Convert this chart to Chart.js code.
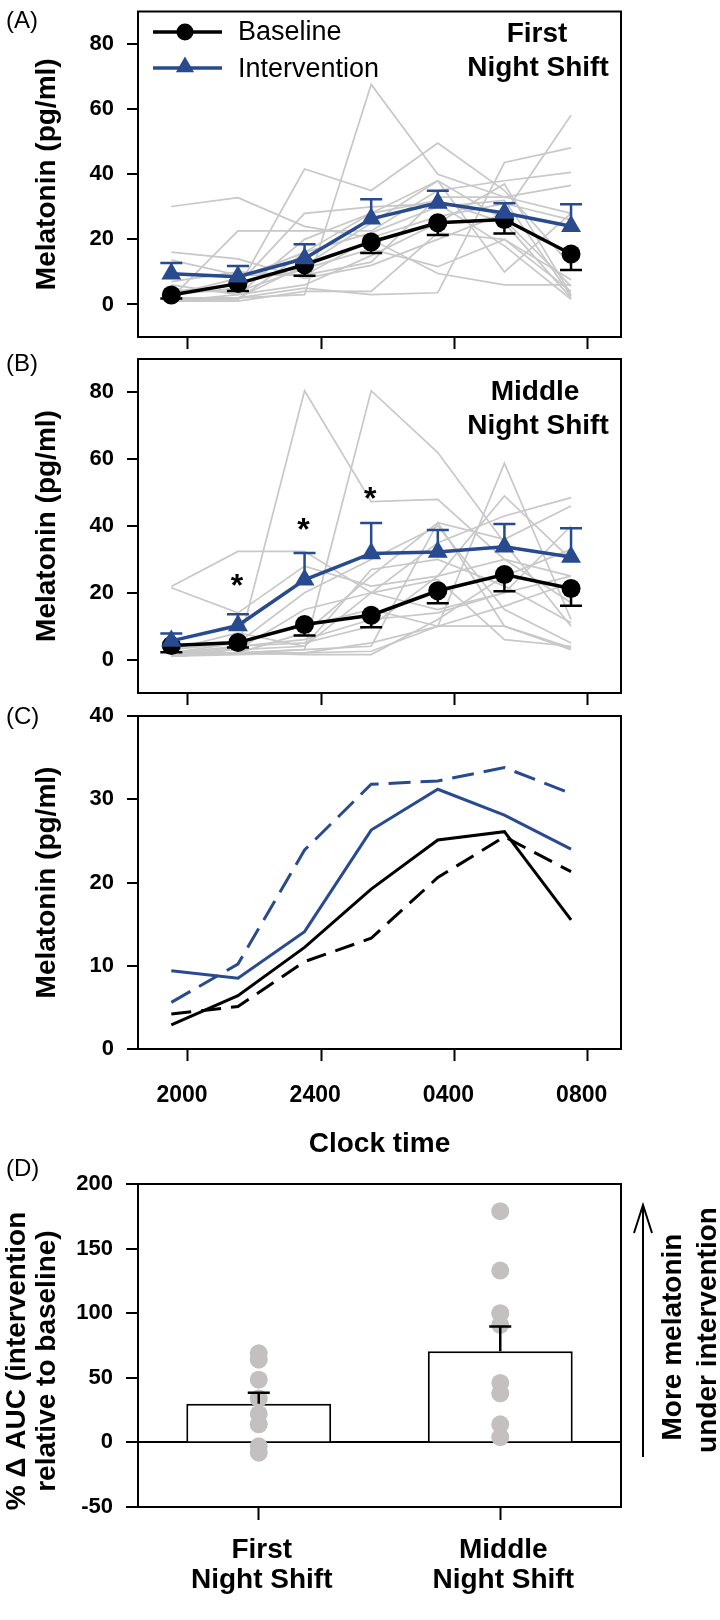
<!DOCTYPE html>
<html>
<head>
<meta charset="utf-8">
<script src="https://cdn.jsdelivr.net/npm/chart.js@4.4.1/dist/chart.umd.min.js"></script>
<style>
  body { margin: 0; background: #fff; }
  #wrap { position: relative; width: 720px; height: 1620px; overflow: hidden; }
  #wrap canvas { position: absolute; left: 0; }
</style>
</head>
<body>
<div id="wrap">
  <canvas id="chartA" width="720" height="360" style="top:0px"></canvas>
  <canvas id="chartB" width="720" height="365" style="top:345px"></canvas>
  <canvas id="chartC" width="720" height="470" style="top:700px"></canvas>
  <canvas id="chartD" width="720" height="470" style="top:1150px"></canvas>
</div>
<script>
// sample times (hours after midnight of day 1) and axis ticks
const hours = [19.5, 21.5, 23.5, 25.5, 27.5, 29.5, 31.5];
const xTickHours = [20, 24, 28, 32];
const xTickLabels = ['2000', '2400', '0400', '0800'];
const yTicksAB = [0, 20, 40, 60, 80];
const yTicksC = [0, 10, 20, 30, 40];
const yTicksD = [-50, 0, 50, 100, 150, 200];

// group means (pg/ml) with one-sided SEM ends
const firstBaseline = [2.9, 6.4, 12.2, 19.2, 25.1, 26.1, 15.5];
const firstBaselineLo = [1.8, 4.1, 8.8, 15.8, 21.3, 21.8, 10.6];
const firstInterv = [9.4, 8.5, 14.1, 26.3, 31.2, 28.1, 24.0];
const firstIntervHi = [12.7, 11.8, 18.5, 32.3, 34.9, 31.1, 30.8];

const middleBaseline = [4.2, 5.1, 10.5, 13.3, 20.6, 25.5, 21.3];
const middleBaselineLo = [2.2, 3.6, 7.2, 9.7, 16.9, 20.5, 16.1];
const middleInterv = [5.6, 10.2, 23.9, 31.8, 32.2, 33.8, 30.7];
const middleIntervHi = [7.8, 13.6, 31.9, 40.9, 38.8, 40.6, 39.3];
const middleStars = [null, 24.2, 40.8, 50.3, null, null, null];

// individual profiles (gray lines)
const firstSubjects = [
  [30.1, 32.8, 24.0, 20.5, 27.0, 31.0, 26.0],
  [1.5, 2.0, 3.0, 67.6, 40.0, 33.0, 28.0],
  [1.0, 2.0, 5.0, 3.0, 3.6, 43.6, 48.1],
  [3.0, 5.0, 41.6, 35.0, 49.6, 35.0, 12.0],
  [16.1, 14.0, 8.0, 12.0, 20.0, 28.0, 58.1],
  [2.0, 22.6, 22.6, 22.6, 35.0, 38.0, 40.6],
  [13.6, 9.0, 9.0, 13.0, 33.0, 33.0, 36.6],
  [4.0, 4.0, 11.0, 17.0, 11.6, 20.0, 7.6],
  [2.0, 2.0, 12.0, 25.0, 38.0, 26.0, 5.6],
  [1.5, 1.5, 16.0, 28.0, 32.0, 25.0, 2.0],
  [4.0, 6.0, 28.0, 30.0, 31.0, 18.0, 1.6],
  [3.0, 8.0, 16.0, 22.0, 30.0, 32.0, 2.6],
  [1.0, 3.0, 6.0, 15.0, 25.0, 37.0, 3.0],
  [7.0, 10.0, 9.0, 20.0, 9.5, 6.0, 6.0],
  [6.0, 3.0, 20.0, 28.0, 38.0, 10.0, 28.0],
  [1.0, 1.0, 4.0, 4.0, 22.0, 20.0, 4.0]
];
const middleSubjects = [
  [1.0, 3.0, 80.5, 47.3, 48.0, 30.0, 25.0],
  [1.0, 2.0, 3.0, 80.5, 62.0, 35.0, 10.0],
  [1.0, 2.0, 2.0, 5.0, 10.0, 58.8, 12.0],
  [2.0, 4.0, 5.0, 10.0, 25.0, 49.0, 30.0],
  [2.0, 3.0, 4.0, 20.0, 35.0, 43.0, 48.5],
  [2.0, 2.0, 8.0, 25.0, 41.0, 36.0, 46.0],
  [21.9, 32.4, 32.4, 20.0, 15.0, 20.0, 25.0],
  [21.5, 14.0, 28.0, 22.0, 25.0, 30.0, 17.0],
  [3.0, 5.0, 10.0, 15.0, 10.0, 10.0, 3.5],
  [1.0, 1.5, 2.0, 2.5, 10.0, 16.0, 23.0],
  [2.0, 5.0, 20.0, 30.0, 40.0, 15.0, 5.0],
  [1.5, 2.0, 1.5, 1.5, 12.0, 25.0, 33.0],
  [3.0, 8.0, 4.0, 27.0, 30.0, 22.0, 11.0],
  [1.0, 2.0, 3.0, 4.0, 41.0, 10.0, 3.0],
  [2.0, 3.0, 15.0, 20.0, 24.0, 6.0, 4.0],
  [1.0, 4.0, 6.0, 12.0, 14.0, 20.0, 40.0]
];

// panel D: % change in AUC
const shiftLabels = [['First', 'Night Shift'], ['Middle', 'Night Shift']];
const aucMean = [30.0, 70.5];
const aucErrHi = [38.5, 89.8];
const aucFirstDots = [69, 64, 48.5, 34, 22, 14, -3, -8];
const aucMiddleDots = [179, 133, 100, 91, 46, 38, 14, 4];

const BLUE = '#284a8e';
const GRAY = '#c8c8c8';
const DOT = '#c4c0c0';
const FONT = "'Liberation Sans', Arial, Helvetica, sans-serif";

Chart.defaults.font.family = FONT;
Chart.defaults.color = '#000';
Chart.defaults.animation = false;

function pts(vals) {
  return vals.map((v, i) => ({ x: hours[i], y: v }));
}

function txt(ctx, s, x, y, size, weight, align) {
  ctx.font = (weight || 'normal') + ' ' + size + 'px ' + FONT;
  ctx.fillStyle = '#000';
  ctx.textAlign = align || 'center';
  ctx.textBaseline = 'alphabetic';
  ctx.fillText(s, x, y);
}

function triangle(ctx, x, y, r) {
  ctx.beginPath();
  ctx.moveTo(x, y - r);
  ctx.lineTo(x + r * Math.sin(2 * Math.PI / 3), y - r * Math.cos(2 * Math.PI / 3));
  ctx.lineTo(x + r * Math.sin(4 * Math.PI / 3), y - r * Math.cos(4 * Math.PI / 3));
  ctx.closePath();
  ctx.fill();
}

const framePlugin = {
  id: 'frame',
  beforeDatasetsDraw(chart) {
    const a = chart.chartArea, ctx = chart.ctx;
    ctx.save();
    ctx.lineWidth = 2;
    ctx.strokeStyle = '#000';
    ctx.strokeRect(a.left, a.top, a.right - a.left, a.bottom - a.top);
    ctx.restore();
  }
};

function drawErr(chart, i) {
  const ds = chart.data.datasets[i];
  if (!ds.errHi && !ds.errLo) return;
  const meta = chart.getDatasetMeta(i);
  const y = chart.scales.y, ctx = chart.ctx;
  ctx.save();
  ctx.strokeStyle = ds.errColor || '#000';
  ctx.lineWidth = 2.5;
  meta.data.forEach((el, j) => {
    [ds.errHi && ds.errHi[j], ds.errLo && ds.errLo[j]].forEach(v => {
      if (v == null) return;
      const py = y.getPixelForValue(v);
      ctx.beginPath();
      ctx.moveTo(el.x, el.y);
      ctx.lineTo(el.x, py);
      ctx.moveTo(el.x - 11, py);
      ctx.lineTo(el.x + 11, py);
      ctx.stroke();
    });
  });
  ctx.restore();
}

const errorPlugin = {
  id: 'errorBars',
  beforeDatasetDraw(chart, args) {
    if (!chart.data.datasets[args.index].errOnTop) drawErr(chart, args.index);
  },
  afterDatasetsDraw(chart) {
    chart.data.datasets.forEach((ds, i) => { if (ds.errOnTop) drawErr(chart, i); });
  }
};

function notes(draw) {
  return {
    id: 'notes',
    afterDraw(chart) {
      const ctx = chart.ctx;
      ctx.save();
      draw(ctx, chart);
      ctx.restore();
    }
  };
}

function timeAxis(showLabels, axisHeight) {
  return {
    type: 'linear',
    min: 18.5,
    max: 33,
    afterBuildTicks: s => { s.ticks = xTickHours.map(v => ({ value: v })); },
    afterFit: s => { s.height = axisHeight; s.paddingLeft = 0; s.paddingRight = 0; },
    border: { display: true, color: '#000', width: 2 },
    grid: { drawOnChartArea: false, tickLength: 12, tickWidth: 2, tickColor: '#000' },
    ticks: {
      display: showLabels,
      padding: 21,
      labelOffset: -6,
      font: { size: 23, weight: 'bold' },
      callback: (v, i) => xTickLabels[i]
    },
    title: {
      display: showLabels,
      text: 'Clock time',
      font: { size: 28, weight: 'bold' },
      padding: { top: 0, bottom: 9 }
    }
  };
}

function valueAxis(min, max, tickVals, title, titleFont, titlePadTop, tickLen, zeroLine) {
  return {
    min: min,
    max: max,
    afterBuildTicks: s => { s.ticks = tickVals.map(v => ({ value: v })); },
    afterFit: s => { s.width = 138; s.paddingTop = 0; s.paddingBottom = 0; },
    border: { display: true, color: '#000', width: 2 },
    grid: {
      drawOnChartArea: !!zeroLine,
      color: c => (c.tick && c.tick.value === 0 ? '#000' : 'rgba(0,0,0,0)'),
      lineWidth: 2,
      tickLength: tickLen,
      tickWidth: 2,
      tickColor: '#000'
    },
    ticks: { padding: 13, font: { size: 22, weight: 'bold' } },
    title: {
      display: true,
      text: title,
      font: titleFont,
      padding: { top: titlePadTop, bottom: 0 }
    }
  };
}

function grayLines(subjects) {
  return subjects.map(s => ({
    data: pts(s),
    borderColor: GRAY,
    borderWidth: 1.7,
    pointRadius: 0,
    order: 5
  }));
}

function meanSets(base, baseLo, interv, intervHi) {
  return [
    {
      data: pts(base), borderColor: '#000', borderWidth: 3.5,
      pointStyle: 'circle', pointRadius: 9.5, pointBackgroundColor: '#000', pointBorderWidth: 0,
      errLo: baseLo, errColor: '#000', order: 2
    },
    {
      data: pts(interv), borderColor: BLUE, borderWidth: 3.5,
      pointStyle: 'triangle', pointRadius: 11.5, pointBackgroundColor: BLUE, pointBorderWidth: 0,
      errHi: intervHi, errColor: BLUE, order: 1
    }
  ];
}

const baseOptions = {
  responsive: false,
  devicePixelRatio: 1,
  animation: false,
  plugins: { legend: { display: false }, tooltip: { enabled: false } }
};

const yTitleFont = { size: 28, weight: 'bold' };

// (A) first night shift
new Chart(document.getElementById('chartA'), {
  type: 'line',
  data: { datasets: grayLines(firstSubjects).concat(meanSets(firstBaseline, firstBaselineLo, firstInterv, firstIntervHi)) },
  options: Object.assign({}, baseOptions, {
    layout: { padding: { left: 0, right: 99, top: 5, bottom: 0 } },
    scales: {
      x: timeAxis(false, 23),
      y: valueAxis(-10, 90, yTicksAB, 'Melatonin (pg/ml)', yTitleFont, 30, 11, false)
    }
  }),
  plugins: [framePlugin, errorPlugin, notes((ctx) => {
    txt(ctx, '(A)', 6, 28, 24, 'normal', 'left');
    txt(ctx, 'First', 537, 42, 28, 'bold');
    txt(ctx, 'Night Shift', 538, 76, 28, 'bold');
    // legend
    ctx.lineWidth = 3.5;
    ctx.strokeStyle = '#000';
    ctx.beginPath(); ctx.moveTo(153, 32); ctx.lineTo(222, 32); ctx.stroke();
    ctx.fillStyle = '#000';
    ctx.beginPath(); ctx.arc(185, 32, 8.5, 0, Math.PI * 2); ctx.fill();
    ctx.strokeStyle = BLUE;
    ctx.beginPath(); ctx.moveTo(153, 68); ctx.lineTo(222, 68); ctx.stroke();
    ctx.fillStyle = BLUE;
    triangle(ctx, 185, 67, 10.5);
    txt(ctx, 'Baseline', 238, 40, 27, 'normal', 'left');
    txt(ctx, 'Intervention', 238, 77, 27, 'normal', 'left');
  })]
});

// (B) middle night shift
new Chart(document.getElementById('chartB'), {
  type: 'line',
  data: { datasets: grayLines(middleSubjects).concat(meanSets(middleBaseline, middleBaselineLo, middleInterv, middleIntervHi)) },
  options: Object.assign({}, baseOptions, {
    layout: { padding: { left: 0, right: 99, top: 14, bottom: 0 } },
    scales: {
      x: timeAxis(false, 17),
      y: valueAxis(-10, 90, yTicksAB, 'Melatonin (pg/ml)', yTitleFont, 30, 11, false)
    }
  }),
  plugins: [framePlugin, errorPlugin, notes((ctx, chart) => {
    txt(ctx, '(B)', 6, 26, 24, 'normal', 'left');
    txt(ctx, 'Middle', 535, 55, 28, 'bold');
    txt(ctx, 'Night Shift', 538, 89, 28, 'bold');
    middleStars.forEach((v, i) => {
      if (v == null) return;
      const x = chart.scales.x.getPixelForValue(hours[i]);
      const y = chart.scales.y.getPixelForValue(v);
      txt(ctx, '*', x - 1, y + 17, 32, 'bold');
    });
  })]
});

// (C) mean profiles overlaid
new Chart(document.getElementById('chartC'), {
  type: 'line',
  data: {
    datasets: [
      { data: pts(firstBaseline), borderColor: '#000', borderWidth: 3, pointRadius: 0 },
      { data: pts(firstInterv), borderColor: BLUE, borderWidth: 3, pointRadius: 0 },
      { data: pts(middleBaseline), borderColor: '#000', borderWidth: 3, borderDash: [20, 10], pointRadius: 0 },
      { data: pts(middleInterv), borderColor: BLUE, borderWidth: 3, borderDash: [22, 10], pointRadius: 0 }
    ]
  },
  options: Object.assign({}, baseOptions, {
    layout: { padding: { left: 0, right: 99, top: 16, bottom: 0 } },
    scales: {
      x: timeAxis(true, 121),
      y: valueAxis(0, 40, yTicksC, 'Melatonin (pg/ml)', yTitleFont, 30, 11, false)
    }
  }),
  plugins: [framePlugin, notes((ctx) => {
    txt(ctx, '(C)', 6, 24, 24, 'normal', 'left');
  })]
});

// (D) % change in AUC
const dotSets = aucFirstDots.map((v, i) => ({
  type: 'line',
  data: [v, aucMiddleDots[i]],
  showLine: false,
  pointRadius: 9,
  pointBackgroundColor: DOT,
  pointBorderWidth: 0,
  order: 1
}));

new Chart(document.getElementById('chartD'), {
  type: 'bar',
  data: {
    labels: shiftLabels,
    datasets: [{
      data: aucMean,
      backgroundColor: '#fff',
      borderColor: '#000',
      borderWidth: 2,
      barPercentage: 0.6,
      categoryPercentage: 1.0,
      errHi: aucErrHi,
      errColor: '#000',
      errOnTop: true,
      order: 2
    }].concat(dotSets)
  },
  options: Object.assign({}, baseOptions, {
    layout: { padding: { left: 0, right: 99, top: 34, bottom: 0 } },
    scales: {
      x: {
        type: 'category',
        offset: true,
        afterFit: s => { s.height = 113; s.paddingLeft = 0; s.paddingRight = 0; },
        border: { display: true, color: '#000', width: 2 },
        grid: { offset: false, drawOnChartArea: false, tickLength: 13, tickWidth: 2, tickColor: '#000' },
        ticks: { padding: 15, labelOffset: 3, font: { size: 28, weight: 'bold', lineHeight: 1.07 } }
      },
      y: valueAxis(-50, 200, yTicksD, ['% \u0394 AUC (intervention    ', 'relative to baseline)    '],
        { size: 28, weight: 'bold', lineHeight: 1.07 }, 2, 12, true)
    }
  }),
  plugins: [framePlugin, errorPlugin, notes((ctx) => {
    txt(ctx, '(D)', 6, 26, 24, 'normal', 'left');
    // arrow
    ctx.strokeStyle = '#000';
    ctx.lineWidth = 2;
    ctx.beginPath();
    ctx.moveTo(643, 307); ctx.lineTo(643, 55);
    ctx.moveTo(634, 83); ctx.lineTo(643, 55); ctx.lineTo(652, 83);
    ctx.stroke();
    // rotated note
    ctx.save();
    ctx.translate(681, 187);
    ctx.rotate(-Math.PI / 2);
    txt(ctx, 'More melatonin', 0, 0, 28, 'bold');
    ctx.restore();
    ctx.save();
    ctx.translate(716, 180);
    ctx.rotate(-Math.PI / 2);
    txt(ctx, 'under intervention', 0, 0, 28, 'bold');
    ctx.restore();
  })]
});
</script>
</body>
</html>
